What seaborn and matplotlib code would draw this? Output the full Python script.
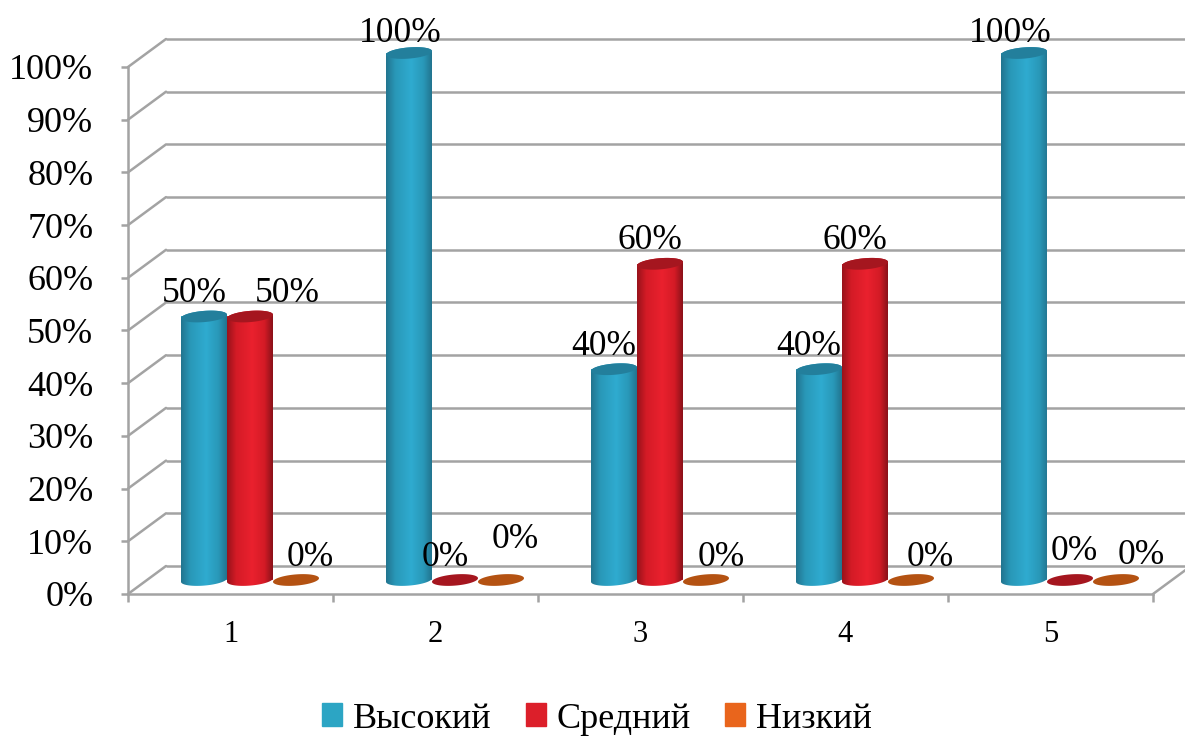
import numpy as np
import pandas as pd
import seaborn as sns
import matplotlib
matplotlib.use("Agg")
import matplotlib.pyplot as plt
from matplotlib.colors import LinearSegmentedColormap
from matplotlib.patches import Patch
from matplotlib.path import Path
from matplotlib.transforms import Affine2D

categories = ["1", "2", "3", "4", "5"]
levels = ["Высокий", "Средний", "Низкий"]
high = [50, 100, 40, 40, 100]
medium = [50, 0, 60, 60, 0]
low = [0, 0, 0, 0, 0]
y_ticks = [0, 10, 20, 30, 40, 50, 60, 70, 80, 90, 100]

sns.set_style("white")
plt.rcParams["font.family"] = ["Liberation Serif", "DejaVu Serif"]

W, H = 1185, 738
fig = plt.figure(figsize=(W / 100, H / 100), dpi=100)
ax = fig.add_axes([128 / W, (H - 594) / H, (1153 - 128) / W, (594 - 67) / H])

df = pd.DataFrame({
    "cat": categories * 3,
    "level": np.repeat(levels, 5),
    "val": high + medium + low,
})
legend_cols = ["#2ca5c4", "#dc1f2a", "#e9651c"]
sns.barplot(data=df, x="cat", y="val", hue="level", hue_order=levels,
            palette=legend_cols, width=0.6732, gap=0, saturation=1,
            legend=False, ax=ax)

px_x = 1 / 205.0   # data units per pixel, horizontally
px_y = 1 / 5.27    # data units per pixel, vertically
grid_col = "#a3a3a3"
lw = 1.8

# Back wall, floor and depth lines
dx_wall, dy_wall = 38 * px_x, 28 * px_y
for v in y_ticks:
    ax.plot([-0.5 + dx_wall, 4.7], [v + dy_wall] * 2, color=grid_col, lw=lw,
            zorder=0.5, clip_on=False, solid_capstyle="butt")
    ax.plot([-0.5, -0.5 + dx_wall], [v, v + dy_wall], color=grid_col, lw=lw,
            zorder=0.5, clip_on=False)
ax.plot([4.5, 4.5 + dx_wall], [0, dy_wall], color=grid_col, lw=lw, zorder=0.5, clip_on=False)

# Bars pushed back into the depth of the chart
shift = Affine2D().translate(19.5 * px_x, 14 * px_y) + ax.transData
rx = 23 * px_x
ry = 5.6 * px_y
sh = 1.8 * px_y

def ell(cx, cy, t):
    return cx + rx * np.cos(t), cy + ry * np.sin(t) + sh * np.cos(t)

body_cmaps = [
    LinearSegmentedColormap.from_list("b", [(0, "#22748f"), (0.2, "#2998b8"), (0.55, "#2fabd0"),
                                            (0.82, "#2998b8"), (1, "#22748f")]),
    LinearSegmentedColormap.from_list("r", [(0, "#98131b"), (0.2, "#d41b26"), (0.55, "#ea212e"),
                                            (0.82, "#d41b26"), (1, "#8a1119")]),
    LinearSegmentedColormap.from_list("o", ["#a8480c", "#e9651c", "#a8480c"]),
]
top_cols = ["#237f9c", "#a5161f", "#b45212"]
grad = np.linspace(0, 1, 128)[None, :]

for i, container in enumerate(ax.containers):
    for bar in container:
        cx = bar.get_x() + bar.get_width() / 2
        val = bar.get_height()
        bar.set_transform(shift)
        bar.set_linewidth(0)
        bar.set_clip_on(False)
        if val > 0:
            tb = np.linspace(np.pi, 2 * np.pi, 40)
            tt = np.linspace(0, np.pi, 40)
            xb, yb = ell(cx, 0, tb)
            xt, yt = ell(cx, val, tt)
            verts = np.column_stack([np.r_[xb, xt], np.r_[yb, yt]])
            outline = Path(np.vstack([verts, verts[0]]), closed=True)
            im = ax.imshow(grad, cmap=body_cmaps[i], aspect="auto", zorder=2 + i * 0.1,
                           extent=(cx - rx, cx + rx, -2 * ry, val + 2 * ry))
            im.set_transform(shift)
            im.set_clip_on(True)
            im.set_clip_box(fig.bbox)
            im.set_clip_path(outline, shift)
        t = np.linspace(0, 2 * np.pi, 80)
        xe, ye = ell(cx, val, t)
        ax.fill(xe, ye, color=top_cols[i], lw=0, zorder=2.05 + i * 0.1,
                transform=shift, clip_on=False)

# Data labels: default nudge, with the ones that sit elsewhere listed
nudge = {(0, 1): (37, 27), (0, 2): (14, 27), (1, 0): (-9, 23), (1, 1): (-10, 27),
         (1, 2): (14, 45), (2, 2): (15, 27), (3, 2): (19, 27), (4, 0): (-14, 23),
         (4, 1): (4, 32), (4, 2): (25, 29)}
for i, container in enumerate(ax.containers):
    for j, bar in enumerate(container):
        cx = bar.get_x() + bar.get_width() / 2
        val = bar.get_height()
        ox, oy = nudge.get((j, i), (-10, 27))
        ax.annotate(f"{val:.0f}%", xy=(cx, val), xycoords=shift, xytext=(ox, oy),
                    textcoords="offset pixels", ha="center", va="center_baseline",
                    fontsize=25.5, color="black", zorder=6, annotation_clip=False)

ax.set_xlim(-0.5, 4.5)
ax.set_ylim(0, 100)
ax.set_xlabel("")
ax.set_ylabel("")
ax.set_yticks(y_ticks, [f"{v}%" for v in y_ticks])
ax.set_xticks(range(5), categories)
ax.set_xticks(np.arange(-0.5, 5), minor=True)
ax.tick_params(axis="y", left=True, length=5, width=lw, color=grid_col, pad=20,
               labelsize=26, labelcolor="black")
ax.tick_params(axis="x", which="major", length=0, pad=19, labelsize=22, labelcolor="black")
ax.tick_params(axis="x", which="minor", bottom=True, length=6, width=lw, color=grid_col)
for s in ("top", "right"):
    ax.spines[s].set_visible(False)
for s in ("left", "bottom"):
    ax.spines[s].set_color(grid_col)
    ax.spines[s].set_linewidth(lw)
ax.patch.set_alpha(0)

handles = [Patch(color=c, label=l) for c, l in zip(legend_cols, levels)]
leg = fig.legend(handles=handles, loc="center", bbox_to_anchor=(597 / W, (H - 719) / H), ncol=3,
                 frameon=False, fontsize=26, handlelength=0.55, handleheight=0.6,
                 handletextpad=0.3, columnspacing=0.95, borderpad=0, borderaxespad=0,
                 labelcolor="black")

fig.savefig("out.png", dpi=100, facecolor="white")
